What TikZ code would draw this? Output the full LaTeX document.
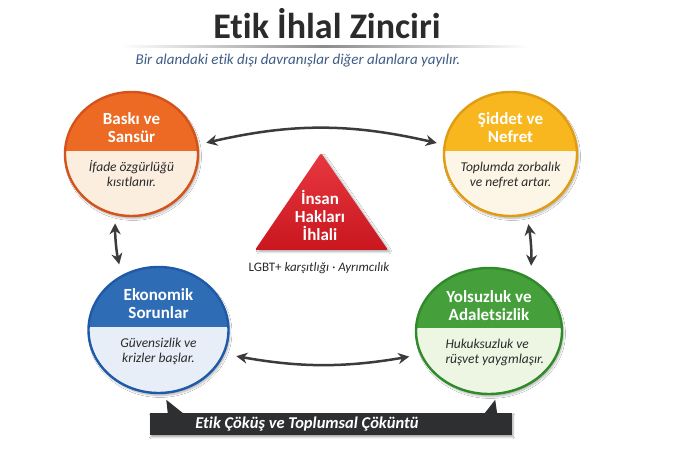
\documentclass[tikz,border=0pt]{standalone}
\usepackage{fontspec}
\setmainfont{Carlito}[Ligatures=NoCommon]
\usepackage{tikz}
\usetikzlibrary{shapes.geometric, arrows.meta, positioning, shadows.blur}

\definecolor{titlegray}{HTML}{2B2B2B}
\definecolor{subblue}{HTML}{3E5C87}
\definecolor{textdark}{HTML}{2A2A2A}
\definecolor{arrowgray}{HTML}{3B3B3B}
\definecolor{bannergray}{HTML}{2E2F31}
\definecolor{orangeB}{HTML}{D4531A}
\definecolor{orangeH}{HTML}{EC6A24}
\definecolor{orangeL}{HTML}{FCEEDF}
\definecolor{yellowB}{HTML}{E09C12}
\definecolor{yellowH}{HTML}{F8B71E}
\definecolor{yellowL}{HTML}{FDF5E5}
\definecolor{blueB}{HTML}{1E5AA8}
\definecolor{blueH}{HTML}{2F6CB6}
\definecolor{blueL}{HTML}{E8EEF7}
\definecolor{greenB}{HTML}{2F8A2A}
\definecolor{greenH}{HTML}{45A03B}
\definecolor{greenL}{HTML}{EDF6E3}
\definecolor{triredL}{HTML}{E8383F}
\definecolor{triredD}{HTML}{C9161F}

\begin{document}
\begin{tikzpicture}[
  x=1pt, y=1pt,
  stage/.style n args={3}{ellipse, draw=#1, line width=2.4pt, fill=#3, inner sep=0pt,
    blur shadow={shadow blur steps=6, shadow xshift=1.5pt, shadow yshift=-2.5pt, shadow opacity=30},
    path picture={\fill[#2] ([yshift=3pt]path picture bounding box.west) rectangle (path picture bounding box.north east);}},
  headtext/.style={font=\fontsize{17}{18}\selectfont\bfseries, text=white, align=center},
  bodytext/.style={font=\fontsize{13.5}{14.5}\selectfont\itshape, text=textdark, align=center},
  twoway/.style={{Stealth[length=11pt, width=11pt]}-{Stealth[length=11pt, width=11pt]}, line width=2.5pt, draw=arrowgray},
  banner/.style={rectangle, fill=bannergray, inner sep=0pt, blur shadow={shadow blur steps=5, shadow xshift=1pt, shadow yshift=-2pt, shadow opacity=35}},
  bannertext/.style={font=\fontsize{16.5}{18}\selectfont\bfseries\itshape, text=white}
]
\useasboundingbox (0,0) rectangle (690,460);
\fill[white] (0,0) rectangle (690,460);

% title
\node[font=\fontsize{36}{40}\selectfont\bfseries, text=titlegray] (title) at (327,436) {Etik İhlal Zinciri};
\shade[left color=white, right color=white, middle color=black!45] (120,412) rectangle (530,414.5);
\node[font=\fontsize{15}{17}\selectfont\itshape, text=subblue] (subtitle) at (298,399) {Bir alandaki etik dışı davranışlar diğer alanlara yayılır.};

% stages
\node[stage={orangeB}{orangeH}{orangeL}, minimum width=133pt, minimum height=124pt] (baski) at (131.5,306) {};
\node[headtext] (baskihead) at (131.5,332) {Baskı ve\\Sansür};
\node[bodytext] (baskibody) at (131.5,286.5) {İfade özgürlüğü\\kısıtlanır.};

\node[stage={yellowB}{yellowH}{yellowL}, minimum width=133pt, minimum height=124pt] (siddet) at (510.5,306) {};
\node[headtext] (siddethead) at (510.5,332) {Şiddet ve\\Nefret};
\node[bodytext] (siddetbody) at (510.5,285) {Toplumda zorbalık\\ve nefret artar.};

\node[stage={blueB}{blueH}{blueL}, minimum width=140pt, minimum height=126pt] (ekonomik) at (158.5,130) {};
\node[headtext] (ekonomikhead) at (158.5,156) {Ekonomik\\Sorunlar};
\node[bodytext] (ekonomikbody) at (158.5,108.5) {Güvensizlik ve\\krizler başlar.};

\node[stage={greenB}{greenH}{greenL}, minimum width=146pt, minimum height=126pt] (yolsuzluk) at (489,129) {};
\node[headtext] (yolsuzlukhead) at (489,154.5) {Yolsuzluk ve\\Adaletsizlik};
\node[bodytext, align=left, anchor=west] (yolsuzlukbody) at (442,107.5) {Hukuksuzluk ve\\rüşvet yaygmlaşır.};

% center triangle
\shade[top color=triredL, bottom color=triredD, rounded corners=2pt, blur shadow={shadow blur steps=5, shadow yshift=-2pt, shadow opacity=30}]
  (321,307) -- (388,210) -- (255,210) -- cycle;
\node[headtext] (ihlal) at (320,245) {İnsan\\Hakları\\İhlali};
\node[font=\fontsize{13}{15}\selectfont, text=textdark] (ihlalalt) at (319,192) {LGBT+ \textit{karşıtlığı · Ayrımcılık}};

% connectors
\draw[twoway, shorten <=8pt, shorten >=7pt] (baski.8) to[bend left=13] (siddet.172);
\draw[twoway, shorten <=12pt, shorten >=11pt] (ekonomik.-20) to[bend right=10] (yolsuzluk.199);
\draw[twoway, shorten <=8pt, shorten >=11pt] (baski.-105) to[bend right=6] (ekonomik.124);
\draw[twoway, shorten <=9pt, shorten >=12pt] (siddet.-75) to[bend left=6] (yolsuzluk.52);

% bottom banner
\node[banner, minimum width=362pt, minimum height=22pt] (cokus) at (331,36) {};
\fill[bannergray] ([xshift=18pt, yshift=-1pt]cokus.north west) -- ([xshift=16.5pt, yshift=13pt]cokus.north west) -- ([xshift=34pt, yshift=-1pt]cokus.north west) -- cycle;
\fill[bannergray] ([xshift=-28pt, yshift=-1pt]cokus.north east) -- ([xshift=-17pt, yshift=13pt]cokus.north east) -- ([xshift=-15pt, yshift=-1pt]cokus.north east) -- cycle;
\node[bannertext] (cokustext) at (307,36) {Etik Çöküş ve Toplumsal Çöküntü};
\end{tikzpicture}
\end{document}
